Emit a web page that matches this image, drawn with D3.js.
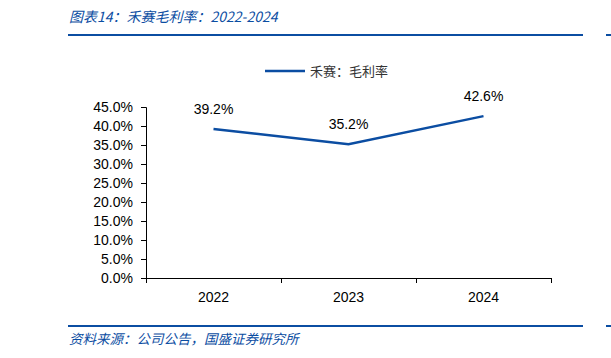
<!DOCTYPE html>
<html>
<head>
<meta charset="utf-8">
<script src="https://cdn.jsdelivr.net/npm/d3@7"></script>
<style>
  body { margin: 0; background: #fff; }
  text { font-family: "Liberation Sans", Arial, sans-serif; }
</style>
</head>
<body>
<div id="viz"></div>
<script>
var years = ['2022', '2023', '2024'];
var margin = [39.2, 35.2, 42.6];
var yTicks = [0, 5, 10, 15, 20, 25, 30, 35, 40, 45];
var seriesName = '禾赛：毛利率';

var width = 611,
    height = 358,
    blue = '#0b4da2',
    cjk = '"Noto Sans CJK SC", sans-serif';

var svg = d3.select('#viz').append('svg')
    .attr('width', width)
    .attr('height', height);

// title + rules
svg.append('text')
    .attr('x', 69).attr('y', 22)
    .style('font-family', cjk)
    .style('font-style', 'italic')
    .style('font-size', '14px')
    .style('fill', blue)
    .text('图表14：禾赛毛利率：2022-2024');

svg.append('rect').attr('x', 68).attr('y', 34).attr('width', 515).attr('height', 2).style('fill', blue);
svg.append('rect').attr('x', 606).attr('y', 34).attr('width', 5).attr('height', 2).style('fill', blue);
svg.append('rect').attr('x', 68).attr('y', 325).attr('width', 515).attr('height', 2).style('fill', blue);
svg.append('rect').attr('x', 606).attr('y', 325).attr('width', 5).attr('height', 2).style('fill', blue);

svg.append('text')
    .attr('x', 69).attr('y', 344)
    .style('font-family', cjk)
    .style('font-style', 'italic')
    .style('font-size', '13.5px')
    .style('fill', blue)
    .text('资料来源：公司公告，国盛证券研究所');

var xScale = d3.scaleBand()
    .domain(years)
    .range([146, 551]);

var yScale = d3.scaleLinear()
    .domain([0, 45])
    .range([278, 107]);

// y axis
var yAxis = d3.axisLeft(yScale)
    .tickValues(yTicks)
    .tickSize(5)
    .tickPadding(8)
    .tickFormat(function(d) { return d.toFixed(1) + '%'; });

var gy = svg.append('g')
    .attr('transform', 'translate(146,0)')
    .call(yAxis);
gy.select('.domain').attr('d', 'M-5,107.5H0.5V278.5');
gy.selectAll('text').style('font-size', '14px').style('fill', '#000');

// x axis
var gx = svg.append('g')
    .attr('transform', 'translate(0,278)')
    .call(d3.axisBottom(xScale).tickSize(0).tickPadding(14));
gx.select('.domain').attr('d', 'M146,0.5H551.5');
gx.selectAll('text').style('font-size', '14px').style('fill', '#000');
gx.selectAll('.xb').data(d3.range(4)).enter().append('line')
    .attr('x1', function(d) { return 146.5 + d * xScale.step(); })
    .attr('x2', function(d) { return 146.5 + d * xScale.step(); })
    .attr('y1', 0).attr('y2', 5)
    .style('stroke', '#000');

// line
var line = d3.line()
    .x(function(d, i) { return xScale(years[i]) + xScale.bandwidth() / 2; })
    .y(function(d) { return yScale(d); });

svg.append('path')
    .datum(margin)
    .attr('d', line)
    .style('fill', 'none')
    .style('stroke', blue)
    .style('stroke-width', 2.5);

svg.selectAll('.lbl').data(margin).enter().append('text')
    .attr('x', function(d, i) { return xScale(years[i]) + xScale.bandwidth() / 2; })
    .attr('y', function(d) { return yScale(d) - 15; })
    .attr('text-anchor', 'middle')
    .style('font-size', '14px')
    .text(function(d) { return d.toFixed(1) + '%'; });

// legend
svg.append('line')
    .attr('x1', 265).attr('x2', 305)
    .attr('y1', 71).attr('y2', 71)
    .style('stroke', blue)
    .style('stroke-width', 2.5);
svg.append('text')
    .attr('x', 310).attr('y', 76)
    .style('font-family', cjk)
    .style('font-size', '13px')
    .style('fill', '#333')
    .text(seriesName);
</script>
</body>
</html>
